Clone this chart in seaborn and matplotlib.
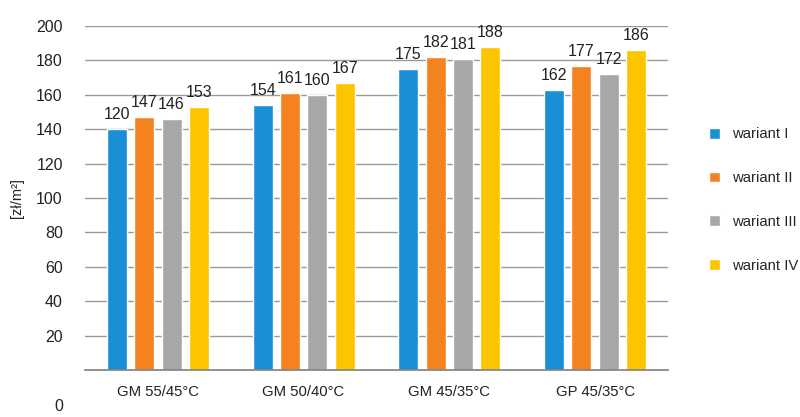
import pandas as pd
import matplotlib.pyplot as plt
import matplotlib.transforms as mtransforms
import seaborn as sns

# Chart data
categories = ['GM 55/45°C', 'GM 50/40°C', 'GM 45/35°C', 'GP 45/35°C']
variants = ['wariant I', 'wariant II', 'wariant III', 'wariant IV']
# bar heights as drawn (first blue bar is drawn at 140 although labelled 120)
values = {
    'wariant I': [140, 154, 175, 163],
    'wariant II': [147, 161, 182, 177],
    'wariant III': [146, 160, 181, 172],
    'wariant IV': [153, 167, 188, 186],
}
# value labels printed above the bars
labels = {
    'wariant I': ['120', '154', '175', '162'],
    'wariant II': ['147', '161', '182', '177'],
    'wariant III': ['146', '160', '181', '172'],
    'wariant IV': ['153', '167', '188', '186'],
}
yticks = [0, 20, 40, 60, 80, 100, 120, 140, 160, 180, 200]

colors = {
    'wariant I': '#1a8fd6',
    'wariant II': '#f58220',
    'wariant III': '#a6a7a9',
    'wariant IV': '#fdc400',
}

rows = []
for v in variants:
    for c, val in zip(categories, values[v]):
        rows.append({'cat': c, 'variant': v, 'value': val})
df = pd.DataFrame(rows)

sns.set_style('white')
plt.rcParams['font.family'] = ['Liberation Sans', 'DejaVu Sans']
plt.rcParams['font.size'] = 10.7

fig = plt.figure(figsize=(8, 4.17), dpi=100)
ax = fig.add_axes([85 / 800, 1 - 370 / 417, (668 - 85) / 800, (370 - 26) / 417])

sns.barplot(data=df, x='cat', y='value', hue='variant', hue_order=variants,
            order=categories, palette=colors, width=0.75, gap=0.27,
            saturation=1, ax=ax)

for cont, v in zip(ax.containers, variants):
    ax.bar_label(cont, labels=labels[v], padding=5, fontsize=11.5, color='#222222')

ax.set_ylim(0, 200)
ax.set_xlim(-0.5, 3.5)
ax.set_yticks(yticks)
ax.yaxis.grid(True, color='#9a9a9a', linewidth=1)
ax.set_axisbelow(True)
for s in ['top', 'right', 'left']:
    ax.spines[s].set_visible(False)
ax.spines['bottom'].set_color('#808080')
ax.spines['bottom'].set_linewidth(1.2)

ax.tick_params(axis='y', length=0, pad=16, labelsize=11.5, labelcolor='#222222')
ax.tick_params(axis='x', length=0, pad=11, labelsize=10.7, labelcolor='#222222')
ax.set_xlabel('')
ax.set_ylabel('[zł/m²]', fontsize=10.5, labelpad=9, color='#222222')

# the "0" label sits well below the baseline in the original
fig.canvas.draw()
zero_lbl = ax.get_yticklabels()[0]
zero_lbl.set_transform(zero_lbl.get_transform() +
                       mtransforms.ScaledTranslation(0, -25 / 72, fig.dpi_scale_trans))

ax.legend(loc='center left', bbox_to_anchor=(709 / 800, 1 - 200 / 417),
          bbox_transform=fig.transFigure, frameon=False, fontsize=10.7,
          handlelength=0.72, handleheight=0.72, handletextpad=0.85,
          labelspacing=2.0, borderpad=0, borderaxespad=0)

fig.savefig('out.png', dpi=100)
